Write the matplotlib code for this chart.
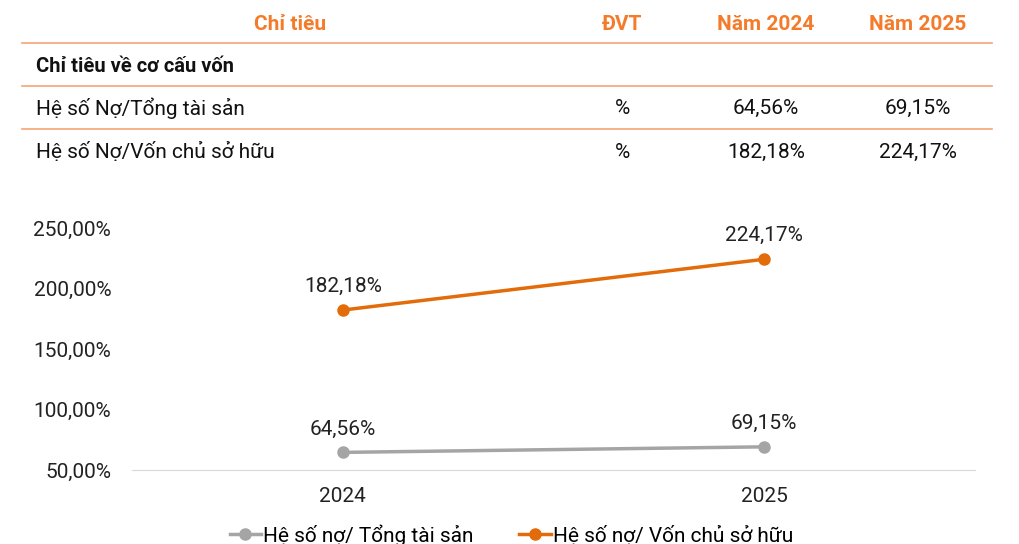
import matplotlib.pyplot as plt
from matplotlib.lines import Line2D

plt.rcParams['font.family'] = ['Roboto', 'DejaVu Sans']

# table data
headers = ["Chỉ tiêu", "ĐVT", "Năm 2024", "Năm 2025"]
section = "Chỉ tiêu về cơ cấu vốn"
row_labels = ["Hệ số Nợ/Tổng tài sản", "Hệ số Nợ/Vốn chủ sở hữu"]
row_units = ["%", "%"]
row_2024 = ["64,56%", "182,18%"]
row_2025 = ["69,15%", "224,17%"]

# chart data
years = ["2024", "2025"]
debt_assets = [64.56, 69.15]
debt_equity = [182.18, 224.17]
series_names = ["Hệ số nợ/ Tổng tài sản", "Hệ số nợ/ Vốn chủ sở hữu"]
y_ticks = [50, 100, 150, 200, 250]

orange = "#F47B2A"
line_orange = "#F6A473"
grey = "#A5A5A5"
dark_orange = "#E36C0A"

W, H = 1020, 544
fig = plt.figure(figsize=(W / 100, H / 100), dpi=100)


def fx(px):
    return px / W


def fy(py):
    return 1 - py / H


# table
col_x = [290, 622, 766, 918]
for x, h in zip(col_x, headers):
    fig.text(fx(x), fy(24), h, ha="center", va="center", color=orange,
             fontsize=15, fontweight="bold")
for y in [43, 86, 129]:
    fig.add_artist(Line2D([fx(22), fx(992)], [fy(y), fy(y)], color=line_orange,
                          lw=1.2, transform=fig.transFigure))
fig.text(fx(36), fy(67), section, ha="left", va="center", color="#111111",
         fontsize=14.5, fontweight="bold")
for i, y in enumerate([108, 152]):
    fig.text(fx(36), fy(y), row_labels[i], ha="left", va="center", color="#111111", fontsize=15)
    fig.text(fx(622), fy(y), row_units[i], ha="center", va="center", color="#111111", fontsize=15)
    fig.text(fx(766), fy(y), row_2024[i], ha="center", va="center", color="#111111", fontsize=15)
    fig.text(fx(918), fy(y), row_2025[i], ha="center", va="center", color="#111111", fontsize=15)

# chart
ax = fig.add_axes([fx(132), fy(470), fx(975) - fx(132), fy(228) - fy(470)])
x = range(len(years))
ax.plot(x, debt_assets, color=grey, lw=2.5, marker="o", ms=8, label=series_names[0])
ax.plot(x, debt_equity, color=dark_orange, lw=2.5, marker="o", ms=8, label=series_names[1])
for xs, ys in [(x, debt_assets), (x, debt_equity)]:
    for xi, yi in zip(xs, ys):
        ax.annotate(f"{yi:.2f}%".replace(".", ","), (xi, yi), xytext=(0, 10),
                    textcoords="offset points", ha="center", va="bottom",
                    fontsize=15, color="#222222")

ax.set_xlim(-0.5, 1.5)
ax.set_ylim(50, 250)
ax.set_xticks(list(x))
ax.set_xticklabels(years)
ax.set_yticks(y_ticks)
ax.set_yticklabels([f"{t:.2f}%".replace(".", ",") for t in y_ticks])
ax.tick_params(length=0, labelsize=15, labelcolor="#222222")
ax.tick_params(axis="y", pad=15)
ax.tick_params(axis="x", pad=12)
for s in ["top", "right", "left"]:
    ax.spines[s].set_visible(False)
ax.spines["bottom"].set_color("#D9D9D9")

# legend sits at the bottom edge, partly cut off like the original
ax_h = fy(228) - fy(470)
ax.legend(loc="center", bbox_to_anchor=(0.45, (fy(535) - fy(470)) / ax_h),
          ncol=2, frameon=False, fontsize=15, handlelength=1.5, handletextpad=0.1,
          columnspacing=2.2)

fig.savefig("out.png", dpi=100)
